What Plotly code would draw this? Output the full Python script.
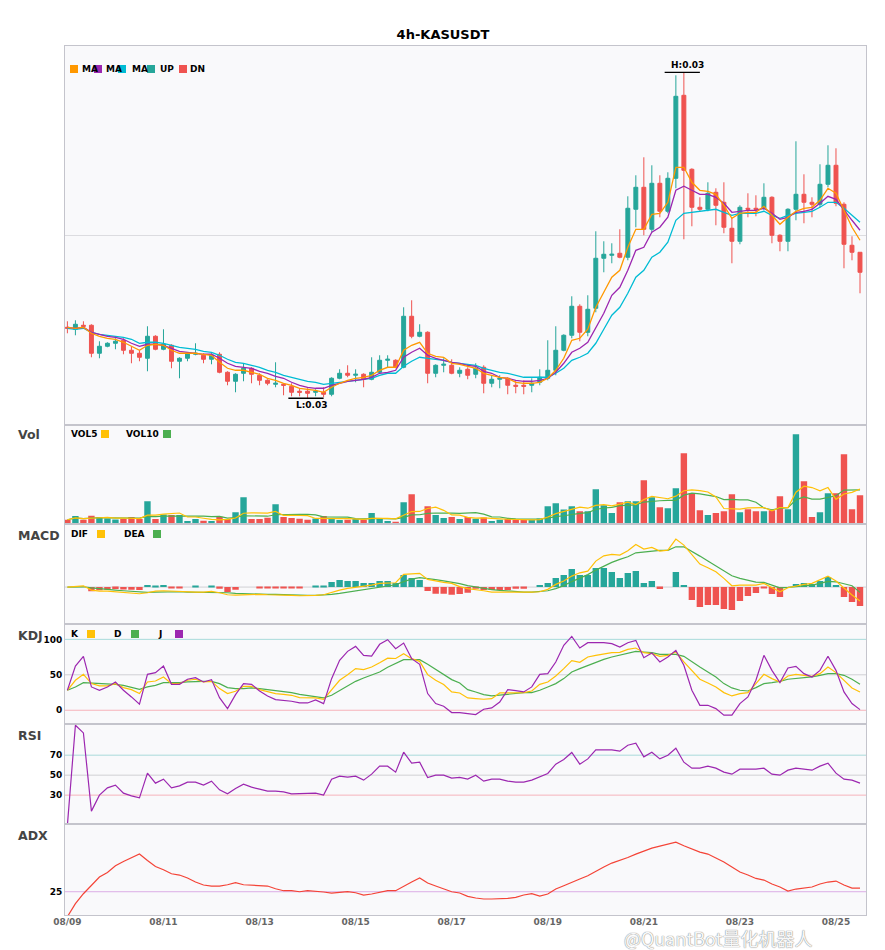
import pandas as pd
import plotly.graph_objects as go
from plotly.subplots import make_subplots

# 4h KAS/USDT candles, 2023-08-09 00:00 onwards
title = "4h-KASUSDT"
start = "2023-08-09 00:00"

open_ = [0.03108, 0.03106, 0.03110, 0.03110, 0.03082, 0.03089, 0.03092, 0.03095, 0.03085, 0.03082,
         0.03077, 0.03099, 0.03086, 0.03090, 0.03074, 0.03077, 0.03081, 0.03080, 0.03076, 0.03081,
         0.03063, 0.03054, 0.03062, 0.03067, 0.03060, 0.03055, 0.03051, 0.03051, 0.03049, 0.03044,
         0.03044, 0.03043, 0.03043, 0.03041, 0.03057, 0.03062, 0.03060, 0.03061, 0.03056, 0.03063,
         0.03075, 0.03075, 0.03068, 0.03119, 0.03099, 0.03103, 0.03062, 0.03070, 0.03070, 0.03062,
         0.03066, 0.03061, 0.03068, 0.03052, 0.03056, 0.03057, 0.03050, 0.03050, 0.03050, 0.03053,
         0.03057, 0.03065, 0.03085, 0.03100, 0.03129, 0.03103, 0.03127, 0.03177, 0.03180, 0.03182,
         0.03178, 0.03226, 0.03248, 0.03206, 0.03252, 0.03224, 0.03257, 0.03340, 0.03266, 0.03228,
         0.03226, 0.03243, 0.03233, 0.03207, 0.03194, 0.03227, 0.03227, 0.03227, 0.03238, 0.03200,
         0.03194, 0.03226, 0.03241, 0.03233, 0.03231, 0.03251, 0.03270, 0.03231, 0.03190, 0.03183]
high = [0.03114, 0.03115, 0.03114, 0.03111, 0.03094, 0.03093, 0.03097, 0.03097, 0.03089, 0.03085,
        0.03109, 0.03100, 0.03106, 0.03091, 0.03078, 0.03083, 0.03092, 0.03082, 0.03082, 0.03083,
        0.03064, 0.03062, 0.03072, 0.03068, 0.03062, 0.03056, 0.03073, 0.03052, 0.03052, 0.03047,
        0.03047, 0.03046, 0.03048, 0.03058, 0.03066, 0.03070, 0.03066, 0.03062, 0.03078, 0.03080,
        0.03080, 0.03076, 0.03128, 0.03135, 0.03111, 0.03104, 0.03071, 0.03077, 0.03076, 0.03068,
        0.03068, 0.03072, 0.03070, 0.03060, 0.03060, 0.03058, 0.03055, 0.03055, 0.03057, 0.03066,
        0.03095, 0.03109, 0.03101, 0.03139, 0.03131, 0.03140, 0.03204, 0.03194, 0.03192, 0.03206,
        0.03239, 0.03260, 0.03278, 0.03270, 0.03260, 0.03263, 0.03360, 0.03363, 0.03267, 0.03238,
        0.03253, 0.03247, 0.03253, 0.03217, 0.03230, 0.03242, 0.03240, 0.03252, 0.03239, 0.03201,
        0.03227, 0.03294, 0.03261, 0.03238, 0.03271, 0.03290, 0.03287, 0.03233, 0.03199, 0.03183]
low = [0.03102, 0.03100, 0.03108, 0.03078, 0.03077, 0.03088, 0.03086, 0.03081, 0.03072, 0.03074,
       0.03064, 0.03085, 0.03085, 0.03067, 0.03057, 0.03074, 0.03080, 0.03072, 0.03071, 0.03062,
       0.03050, 0.03043, 0.03054, 0.03052, 0.03050, 0.03050, 0.03048, 0.03040, 0.03039, 0.03039,
       0.03037, 0.03039, 0.03038, 0.03039, 0.03056, 0.03058, 0.03053, 0.03048, 0.03055, 0.03062,
       0.03068, 0.03067, 0.03067, 0.03097, 0.03098, 0.03052, 0.03058, 0.03063, 0.03061, 0.03058,
       0.03056, 0.03057, 0.03042, 0.03048, 0.03047, 0.03041, 0.03042, 0.03041, 0.03043, 0.03050,
       0.03055, 0.03060, 0.03084, 0.03097, 0.03094, 0.03099, 0.03123, 0.03163, 0.03172, 0.03177,
       0.03175, 0.03208, 0.03200, 0.03203, 0.03218, 0.03222, 0.03247, 0.03196, 0.03209, 0.03224,
       0.03224, 0.03210, 0.03202, 0.03172, 0.03191, 0.03218, 0.03219, 0.03225, 0.03192, 0.03184,
       0.03184, 0.03215, 0.03212, 0.03218, 0.03228, 0.03248, 0.03229, 0.03167, 0.03175, 0.03142]
close = [0.03107, 0.03111, 0.03109, 0.03082, 0.03089, 0.03092, 0.03094, 0.03085, 0.03082, 0.03078,
         0.03099, 0.03086, 0.03091, 0.03074, 0.03077, 0.03082, 0.03082, 0.03076, 0.03080, 0.03063,
         0.03054, 0.03061, 0.03067, 0.03061, 0.03055, 0.03052, 0.03052, 0.03050, 0.03043, 0.03043,
         0.03042, 0.03044, 0.03041, 0.03057, 0.03062, 0.03060, 0.03061, 0.03056, 0.03063, 0.03075,
         0.03076, 0.03068, 0.03119, 0.03099, 0.03103, 0.03062, 0.03070, 0.03071, 0.03062, 0.03065,
         0.03060, 0.03067, 0.03052, 0.03056, 0.03057, 0.03050, 0.03049, 0.03049, 0.03052, 0.03058,
         0.03065, 0.03085, 0.03100, 0.03129, 0.03103, 0.03126, 0.03177, 0.03181, 0.03181, 0.03178,
         0.03227, 0.03248, 0.03206, 0.03252, 0.03224, 0.03257, 0.03339, 0.03265, 0.03228, 0.03226,
         0.03242, 0.03230, 0.03208, 0.03194, 0.03228, 0.03226, 0.03226, 0.03238, 0.03200, 0.03194,
         0.03226, 0.03241, 0.03233, 0.03231, 0.03251, 0.03270, 0.03232, 0.03191, 0.03183, 0.03163]

# volume, millions
volume = [14, 25, 14, 26, 22, 18, 15, 16, 22, 16,
          70, 16, 30, 28, 28, 10, 16, 11, 10, 23,
          16, 37, 82, 16, 16, 20, 61, 22, 19, 17,
          14, 18, 25, 18, 13, 14, 16, 14, 34, 18,
          10, 8, 67, 91, 19, 55, 28, 19, 22, 16,
          22, 17, 21, 10, 14, 16, 13, 13, 13, 18,
          55, 64, 45, 55, 40, 40, 106, 58, 34, 67,
          70, 70, 133, 82, 52, 49, 109, 214, 94, 43,
          28, 34, 40, 91, 37, 46, 40, 40, 43, 85,
          46, 271, 130, 22, 37, 94, 94, 211, 46, 88]

ma_fast = [0.03108, 0.03107, 0.03108, 0.03102, 0.03099, 0.03097, 0.03096, 0.03093, 0.03089, 0.03085,
           0.03090, 0.03091, 0.03090, 0.03085, 0.03082, 0.03082, 0.03082, 0.03081, 0.03080, 0.03073,
           0.03067, 0.03065, 0.03065, 0.03063, 0.03061, 0.03057, 0.03055, 0.03052, 0.03050, 0.03047,
           0.03046, 0.03045, 0.03043, 0.03048, 0.03052, 0.03055, 0.03057, 0.03058, 0.03060, 0.03065,
           0.03068, 0.03068, 0.03085, 0.03090, 0.03093, 0.03082, 0.03079, 0.03078, 0.03072, 0.03071,
           0.03069, 0.03067, 0.03062, 0.03060, 0.03058, 0.03057, 0.03053, 0.03052, 0.03052, 0.03053,
           0.03057, 0.03065, 0.03077, 0.03095, 0.03097, 0.03106, 0.03128, 0.03143, 0.03158, 0.03165,
           0.03188, 0.03206, 0.03206, 0.03221, 0.03222, 0.03233, 0.03268, 0.03268, 0.03253, 0.03245,
           0.03244, 0.03241, 0.03230, 0.03217, 0.03222, 0.03223, 0.03223, 0.03229, 0.03220, 0.03211,
           0.03218, 0.03224, 0.03227, 0.03228, 0.03235, 0.03247, 0.03242, 0.03225, 0.03208, 0.03195]
ma_mid = [0.03108, 0.03107, 0.03108, 0.03103, 0.03101, 0.03099, 0.03098, 0.03096, 0.03092, 0.03089,
          0.03091, 0.03091, 0.03090, 0.03087, 0.03084, 0.03083, 0.03082, 0.03081, 0.03081, 0.03077,
          0.03072, 0.03069, 0.03068, 0.03067, 0.03064, 0.03062, 0.03059, 0.03057, 0.03053, 0.03050,
          0.03048, 0.03047, 0.03047, 0.03050, 0.03052, 0.03054, 0.03055, 0.03056, 0.03058, 0.03062,
          0.03063, 0.03065, 0.03078, 0.03083, 0.03087, 0.03080, 0.03077, 0.03075, 0.03073, 0.03072,
          0.03070, 0.03069, 0.03064, 0.03062, 0.03058, 0.03057, 0.03055, 0.03054, 0.03054, 0.03055,
          0.03057, 0.03063, 0.03072, 0.03083, 0.03087, 0.03093, 0.03108, 0.03122, 0.03140, 0.03148,
          0.03165, 0.03185, 0.03188, 0.03203, 0.03208, 0.03218, 0.03245, 0.03249, 0.03245, 0.03241,
          0.03241, 0.03238, 0.03232, 0.03223, 0.03224, 0.03225, 0.03225, 0.03227, 0.03222, 0.03216,
          0.03218, 0.03223, 0.03224, 0.03226, 0.03232, 0.03239, 0.03236, 0.03225, 0.03215, 0.03205]
ma_slow = [0.03107, 0.03106, 0.03107, 0.03103, 0.03101, 0.03100, 0.03099, 0.03098, 0.03096, 0.03092,
           0.03093, 0.03093, 0.03092, 0.03090, 0.03088, 0.03087, 0.03086, 0.03084, 0.03083, 0.03080,
           0.03076, 0.03073, 0.03072, 0.03070, 0.03068, 0.03065, 0.03063, 0.03060, 0.03058, 0.03056,
           0.03054, 0.03053, 0.03051, 0.03052, 0.03053, 0.03054, 0.03055, 0.03056, 0.03057, 0.03060,
           0.03062, 0.03062, 0.03069, 0.03074, 0.03078, 0.03077, 0.03076, 0.03075, 0.03073, 0.03072,
           0.03071, 0.03070, 0.03067, 0.03065, 0.03063, 0.03062, 0.03060, 0.03058, 0.03058, 0.03058,
           0.03058, 0.03062, 0.03067, 0.03075, 0.03078, 0.03082, 0.03092, 0.03106, 0.03120, 0.03128,
           0.03142, 0.03158, 0.03165, 0.03178, 0.03183, 0.03193, 0.03215, 0.03222, 0.03223, 0.03224,
           0.03225, 0.03226, 0.03223, 0.03220, 0.03222, 0.03222, 0.03222, 0.03224, 0.03220, 0.03217,
           0.03220, 0.03222, 0.03223, 0.03224, 0.03228, 0.03233, 0.03233, 0.03227, 0.03220, 0.03213]

vol5 = [14, 19.5, 17.7, 19.8, 20.2, 21, 19, 19.4, 18.6, 17.4,
        27.8, 28, 30.8, 32, 34.4, 22.4, 22.4, 18.6, 15, 14,
        15.2, 19.4, 33.6, 34.8, 33.4, 34.2, 39, 27, 27.6, 27.8,
        26.6, 18, 18.6, 18.4, 17.6, 17.6, 17.2, 15, 18.2, 19.2,
        18.4, 16.8, 27.4, 38.8, 39, 48, 52, 42.4, 28.6, 28,
        21.4, 19.2, 19.6, 17.2, 16.8, 15.6, 14.8, 13.2, 13.8, 14.6,
        22.4, 32.6, 39, 47.4, 51.8, 48.8, 57.2, 59.8, 55.6, 61,
        67, 59.8, 74.8, 84.4, 81.4, 77.2, 85, 101.2, 103.6, 101.8,
        97.6, 82.6, 47.8, 47.2, 46, 49.6, 50.8, 50.8, 41.2, 50.8,
        50.8, 97, 115, 110.8, 101.2, 110.8, 75.4, 91.6, 96.4, 106.6]
vol10 = [14, 19.5, 17.7, 19.8, 20.2, 19.8, 19.1, 18.8, 19.1, 18.8,
         24.4, 23.5, 25.1, 25.3, 25.9, 25.1, 25.2, 24.7, 23.5, 24.2,
         18.8, 20.9, 26.1, 24.9, 23.7, 24.7, 29.2, 30.3, 31.2, 30.6,
         30.4, 28.5, 22.8, 23, 22.7, 22.1, 17.6, 16.8, 18.3, 18.4,
         18, 17, 21.2, 28.5, 29.1, 33.2, 34.4, 34.9, 33.7, 33.5,
         34.7, 35.6, 31, 22.9, 22.4, 18.5, 17, 16.4, 15.5, 15.7,
         19, 23.7, 26.1, 30.6, 33.2, 35.6, 44.9, 49.4, 51.5, 56.4,
         57.9, 58.5, 67.3, 70, 71.2, 72.1, 72.4, 88, 94, 91.6,
         87.4, 83.8, 74.5, 75.4, 73.9, 73.6, 66.7, 49.3, 44.2, 48.4,
         50.2, 73.9, 82.9, 76, 76, 80.8, 86.2, 103.3, 103.6, 103.9]

# MACD, in units of 1e-5
dif = [0, 1, 1.3, -3, -4, -4, -4.7, -5, -5.7, -6.7,
       -5.7, -4, -3.7, -4, -5, -5.3, -5, -5, -4.3, -5.7,
       -7.7, -8, -7.7, -7.3, -7.3, -7.7, -7.7, -7.7, -8.3, -8.7,
       -8.7, -8.3, -7.7, -5.3, -3, -1.3, -0.3, 0.7, 2, 3.7,
       4.3, 4.3, 12.7, 13.3, 13.7, 7.7, 6, 4.7, 3.7, 0.5,
       -1.5, -2.3, -3.7, -5, -5, -5, -5.7, -5.7, -5, -4.7,
       -2.3, 2.7, 6, 11, 14.3, 16, 26, 31.3, 32.7, 32,
       36.3, 42.7, 38, 39.7, 36, 37, 48, 42, 32, 23,
       19.3, 15.3, 8.7, 1.3, 2, 2, 2, 3.7, -0.7, -4.7,
       -0.7, 1.3, 2.7, 3.7, 7, 11, 6, -1.3, -8, -14]
dea = [0, 0.3, 0.3, -0.7, -1.7, -2.3, -3, -3.7, -4.3, -5,
       -5.3, -5, -4.7, -4.7, -4.7, -5, -5, -5, -5, -5.3,
       -5.7, -6.3, -6.7, -7, -7, -7.3, -7.3, -7.7, -8, -8,
       -8.3, -8.3, -8, -7.3, -6.3, -5, -3.7, -2.7, -1.3, 0,
       1.3, 2.3, 5.5, 8, 9.5, 8.8, 7.5, 6.2, 5, 3.5,
       1.5, 0, -1.3, -2.5, -3.3, -4, -4.5, -5, -5, -4.7,
       -3.7, -1.5, 1.5, 5.5, 9, 12.5, 17, 21, 24.7, 27.7,
       30.3, 34.3, 35.3, 36.3, 36.7, 36.7, 40.3, 40.3, 36, 31,
       26, 21, 16.3, 11.3, 8.7, 7, 5, 4.7, 2.3, -0.7,
       -0.3, 0.3, 1.3, 2, 3.7, 5.7, 5.3, 3.3, 1.3, -5.3]
macd_hist = [0, 0, 0, -4.3, -3.3, -2.7, -2, -2.3, -2.7, -3,
             2, 1.3, 2, -0.7, -0.7, 0, 1, 0, 1, -1.7,
             -5, -2.7, 0, 0, -0.7, -0.7, -0.7, -0.7, -0.7, -0.7,
             0, 1, 1, 5, 7, 6, 6, 4, 4, 6,
             6, 4, 12, 9, 7, -4, -6.7, -6.7, -7.7, -7,
             -5.7, -1.7, -3, -3, -3, -3, -1.7, -1.7, 0, 2,
             4, 9, 12, 18, 12, 12, 19, 19, 15, 9,
             14, 16, 4, 6, -2, 0, 15, 2, -13, -20,
             -18, -18, -22, -23, -14, -9, -6, -0.7, -7, -10,
             0, 3, 4, 3, 6, 10, 2, -10, -15, -19]

k_line = [28.2, 42.3, 50.7, 37.6, 34.3, 34.3, 37.6, 31.9, 29.1, 23.5,
          39.9, 41.3, 47, 37.6, 37.6, 42.3, 43.7, 39.9, 40.8, 30.5,
          23.5, 26.8, 33.8, 33.8, 29.1, 25.8, 23.5, 22.5, 21.1, 17.8,
          17.4, 17.4, 15.5, 28.2, 42.3, 50.2, 58.7, 57.3, 61, 67,
          73.5, 73, 79.8, 72.8, 69, 50.2, 42.3, 36.2, 25.8, 24.4,
          17.4, 16.4, 15.5, 16.4, 24.4, 24.4, 24.9, 24.9, 27.2, 36.6,
          39.9, 48.4, 58.7, 70, 67.6, 75.1, 77.5, 79.8, 81.2, 81.7,
          85.9, 87.8, 81.2, 79.8, 76.1, 77.5, 82.2, 68.1, 56.3, 43.7,
          38.5, 32.9, 24.9, 20.2, 23.5, 24.9, 37.6, 50.7, 44.6, 39.9,
          48.4, 50.7, 49.3, 47.9, 51.6, 61, 53.1, 42.3, 31.5, 25.8]
d_line = [28.2, 32.9, 39, 38.5, 37.6, 36.6, 36.6, 35.2, 32.9, 29.6,
          32.9, 35.2, 39, 38.5, 39, 39.9, 40.8, 40.8, 40.8, 37.6,
          31.9, 30.5, 30.5, 31.5, 30.5, 29.1, 27.2, 26.8, 24.9, 22.5,
          21.1, 19.7, 17.4, 21.1, 27.7, 34.3, 40.8, 45.5, 49.3, 54,
          60.6, 65.7, 71.4, 71.4, 71.4, 64.8, 57.7, 50.7, 43.2, 38.5,
          29.1, 25.8, 22.1, 20.2, 21.6, 23, 23.9, 24.9, 24.9, 28.2,
          32.9, 37.6, 44.6, 54, 58.7, 63.4, 68.1, 71.8, 75.1, 77.5,
          79.8, 83.1, 82.2, 81.2, 78.9, 78.9, 78.9, 76.1, 68.1, 61,
          54, 47, 37.6, 31.5, 28.2, 27.2, 31.9, 37.6, 39, 40.8,
          43.7, 44.6, 46, 47, 49.3, 51.6, 51.6, 49.3, 43.7, 36.6]
j_line = [28.2, 62.4, 76.1, 32.9, 28.2, 32.9, 39.9, 28.2, 18.8, 8.5,
          50.7, 53.1, 62.4, 36.6, 36.6, 43.7, 46, 39.9, 43.2, 17.8,
          2.3, 22.1, 37.6, 36.6, 27.2, 20.2, 15, 14.1, 12.7, 10.3,
          10.3, 14.6, 9.4, 44.6, 70.4, 83.1, 90.1, 77.5, 76.5, 93,
          99.5, 86.9, 94.8, 72.8, 64.8, 23.5, 9.4, 5.6, -3.3, -3.3,
          -4.7, -6.1, 1.4, 3.3, 11.7, 29.1, 27.7, 25.8, 32.9, 50.7,
          51.6, 68.1, 91.6, 104.2, 87.8, 95.3, 95.3, 95.3, 93.9, 89.2,
          95.3, 98.6, 74.2, 80.8, 68.1, 75.1, 84.5, 63.4, 28.2, 7,
          7, 2.3, -7, -7, 9.4, 18.8, 42.3, 77.5, 56.3, 39,
          59.6, 62, 51.6, 47, 56.3, 76.1, 56.3, 25.8, 9.4, 0.9]

rsi = [0, 100, 92.3, 14, 30, 37.3, 40, 32, 29.3, 27.3,
       52, 42, 46, 37.3, 39.3, 43, 43, 40, 44, 35.3,
       31.3, 36.7, 41, 38, 36, 34, 34, 33.3, 31.3, 31.3,
       31.3, 32, 30, 46, 49, 48, 49, 45, 51, 59,
       59, 53, 73, 62, 63, 47.7, 50, 50, 47, 47.7,
       46, 50, 44, 46, 46, 44, 43, 43, 45, 48,
       51.7, 61, 65.7, 72.7, 61, 66.3, 75.3, 75.3, 75.3, 74,
       80, 82, 68.3, 73, 66.3, 70, 77, 63, 57, 57,
       59, 57, 53, 51, 56, 56, 56, 57, 51, 50,
       55, 57, 56.3, 55, 59, 62, 52, 46, 45, 42]

adx = [0, 13, 23, 31.7, 39.7, 44.3, 51, 55.3, 59.3, 62.7,
       56.3, 50.3, 47, 43, 41.7, 38.7, 34.7, 31.7, 30.7, 30.7,
       32, 34, 32, 31.7, 30.7, 30.7, 28, 26, 26, 25,
       26, 25.7, 24.7, 23.7, 24, 25, 24, 21.7, 22.7, 24,
       26, 26, 30.7, 34.7, 38.7, 33.7, 30.7, 28, 25, 23.7,
       20.3, 18.7, 17.7, 17.7, 17.7, 18.3, 19.3, 21.7, 23, 20.7,
       22.7, 27.7, 31, 34.7, 37.7, 41, 45.7, 49.7, 53.7, 56.3,
       59.3, 62.7, 65.7, 68.7, 70.7, 72.7, 74.7, 71, 67.7, 64.7,
       62.7, 58.7, 54.7, 49.7, 44.7, 41.7, 38.3, 36.7, 32.7, 29.7,
       25.7, 27.7, 28.7, 29.7, 32.7, 34.7, 35.7, 31.7, 28.7, 28.7]

times = pd.date_range(start, periods=len(close), freq="4h")
step = pd.Timedelta(hours=4)

UP, DN = "#26a69a", "#ef5350"
ORANGE, PURPLE, CYAN = "#ff9800", "#9c27b0", "#00bcd4"
YELLOW, GREEN = "#ffc107", "#4caf50"
BORDER = "#c4c4cc"
BG = "#f9f9fb"

fig = make_subplots(rows=6, cols=1, shared_xaxes=True, vertical_spacing=0,
                    row_heights=[379, 100, 100, 100, 100, 91])

# price
fig.add_trace(go.Candlestick(
    x=times, open=open_, high=high, low=low, close=close,
    increasing=dict(line=dict(color=UP, width=1), fillcolor=UP),
    decreasing=dict(line=dict(color=DN, width=1), fillcolor=DN),
    whiskerwidth=0), row=1, col=1)
for vals, col in [(ma_slow, CYAN), (ma_mid, PURPLE), (ma_fast, ORANGE)]:
    fig.add_trace(go.Scatter(x=times, y=vals, mode="lines",
                             line=dict(color=col, width=1.3)), row=1, col=1)

# volume
bar_colors = [UP if c >= o else DN for o, c in zip(open_, close)]
fig.add_trace(go.Bar(x=times, y=volume, marker_color=bar_colors,
                     marker_line_width=0), row=2, col=1)
fig.add_trace(go.Scatter(x=times, y=vol10, mode="lines",
                         line=dict(color=GREEN, width=1.2)), row=2, col=1)
fig.add_trace(go.Scatter(x=times, y=vol5, mode="lines",
                         line=dict(color=YELLOW, width=1.2)), row=2, col=1)

# macd
fig.add_trace(go.Bar(x=times, y=macd_hist,
                     marker_color=[UP if h >= 0 else DN for h in macd_hist],
                     marker_line_width=0), row=3, col=1)
fig.add_trace(go.Scatter(x=times, y=dea, mode="lines",
                         line=dict(color=GREEN, width=1.2)), row=3, col=1)
fig.add_trace(go.Scatter(x=times, y=dif, mode="lines",
                         line=dict(color=YELLOW, width=1.2)), row=3, col=1)

# kdj
for vals, col in [(d_line, GREEN), (k_line, YELLOW), (j_line, PURPLE)]:
    fig.add_trace(go.Scatter(x=times, y=vals, mode="lines",
                             line=dict(color=col, width=1.2)), row=4, col=1)

# rsi / adx
fig.add_trace(go.Scatter(x=times, y=rsi, mode="lines",
                         line=dict(color=PURPLE, width=1.2)), row=5, col=1)
fig.add_trace(go.Scatter(x=times, y=adx, mode="lines",
                         line=dict(color="#f44336", width=1.2)), row=6, col=1)

# reference lines
TEAL_L, GRAY_L, PINK_L = "#a9dada", "#d0d0d4", "#f6b3bb"
fig.add_hline(y=0, row=3, col=1, line=dict(color=GRAY_L, width=1), layer="below")
for y, c in [(100, TEAL_L), (50, GRAY_L), (0, PINK_L)]:
    fig.add_hline(y=y, row=4, col=1, line=dict(color=c, width=1), layer="below")
for y, c in [(70, TEAL_L), (50, GRAY_L), (30, PINK_L)]:
    fig.add_hline(y=y, row=5, col=1, line=dict(color=c, width=1), layer="below")
fig.add_hline(y=25, row=6, col=1, line=dict(color="#dcaee6", width=1), layer="below")

# high / low marks
ih = high.index(max(high))
il = low.index(min(low))
for i, val, tag, anchor in [(ih, high[ih], "H", "bottom"), (il, low[il], "L", "top")]:
    fig.add_shape(type="line", xref="x", yref="y",
                  x0=times[i] - 2.4 * step, x1=times[i] + 2 * step, y0=val, y1=val,
                  line=dict(color="black", width=1.3))
    fig.add_annotation(x=times[i] + 0.5 * step, y=val, xref="x", yref="y",
                       text=f"{tag}:{val:.2f}", showarrow=False, yanchor=anchor,
                       font=dict(size=9, color="black", weight="bold"))

# axes
x_range = [times[0] - 0.3 * step, times[-1] + 0.75 * step]
fig.update_xaxes(range=x_range, showgrid=False, zeroline=False, showline=True,
                 mirror=True, linecolor=BORDER, linewidth=1, ticks="",
                 rangeslider_visible=False, tickformat="%m/%d",
                 tick0="2023-08-09", dtick=2 * 86400000, ticklabelstandoff=-2,
                 tickfont=dict(size=9, color="#666666", weight="bold"))
ycommon = dict(showline=True, mirror=True, linecolor=BORDER, linewidth=1,
               zeroline=False, ticks="", fixedrange=True,
               tickfont=dict(size=9, color="black", weight="bold"))
fig.update_yaxes(row=1, col=1, range=[0.030107, 0.033893], tickvals=[0.032],
                 showticklabels=False, showgrid=True, gridcolor="#dcdce0", **ycommon)
fig.update_yaxes(row=2, col=1, range=[0, 300], showticklabels=False, showgrid=False, **ycommon)
fig.update_yaxes(row=3, col=1, range=[-37.3, 62.7], showticklabels=False, showgrid=False, **ycommon)
fig.update_yaxes(row=4, col=1, range=[-19.7, 121.2], tickvals=[0, 50, 100], showgrid=False, **ycommon)
fig.update_yaxes(row=5, col=1, range=[1, 101], tickvals=[30, 50, 70], showgrid=False, **ycommon)
fig.update_yaxes(row=6, col=1, range=[1.7, 92.7], tickvals=[25], showgrid=False, **ycommon)

# page pixel layout: the page body adds an 8px offset around the figure
PAD = 8
L, T, W, H = 65, 46, 801, 869   # plot area in page pixels
FW, FH = 885 - PAD, 950 - PAD   # figure size


def to_paper(x, y):
    return (x - L) / W, 1 - (y - T) / H


def text_at(text, x, y, size=9, color="black", anchor="left", **font_extra):
    px, py = to_paper(x, y)
    font = dict(size=size, color=color, weight="bold")
    font.update(font_extra)
    fig.add_annotation(text=text, x=px, y=py, xref="paper", yref="paper",
                       xanchor=anchor, yanchor="middle", showarrow=False, font=font)


def square(x, y, color, s=8):
    x0, y0 = to_paper(x, y + s / 2)
    x1, y1 = to_paper(x + s, y - s / 2)
    fig.add_shape(type="rect", xref="paper", yref="paper", x0=x0, y0=y0,
                  x1=x1, y1=y1, fillcolor=color, line_width=0)


# panel names
for name, y in [("Vol", 435), ("MACD", 535), ("KDJ", 635), ("RSI", 735), ("ADX", 835)]:
    text_at(name, 16, y, size=12.5, color="#444444")

# in-panel legends
for x_sq, x_txt, col, txt in [(70, 80, ORANGE, "MA"), (94, 104, PURPLE, "MA"),
                              (118, 130, CYAN, "MA"), (147, 158, UP, "UP"),
                              (179, 188, DN, "DN")]:
    text_at(txt, x_txt, 69)
    square(x_sq, 69, col)
for x_txt, txt, x_sq, col in [(69, "VOL5", 101, YELLOW), (124, "VOL10", 163, GREEN)]:
    text_at(txt, x_txt, 434)
    square(x_sq, 434, col)
for x_txt, txt, x_sq, col in [(69, "DIF", 97, YELLOW), (122, "DEA", 153, GREEN)]:
    text_at(txt, x_txt, 534)
    square(x_sq, 534, col)
for x_txt, txt, x_sq, col in [(69, "K", 87, YELLOW), (112, "D", 131, GREEN),
                              (156, "J", 175, PURPLE)]:
    text_at(txt, x_txt, 634)
    square(x_sq, 634, col)

# watermark (kept just under the date labels)
text_at("@QuantBot量化机器人", 622, 938, size=18, color="rgba(255,255,255,0.95)",
        family="Noto Sans CJK SC", weight="normal",
        shadow="0 0 1px #8a8a8a, 0 0 1px #8a8a8a")

fig.update_layout(
    width=FW, height=FH, autosize=False,
    margin=dict(l=L - PAD, r=FW - (L - PAD) - W, t=T - PAD, b=FH - (T - PAD) - H),
    paper_bgcolor="white", plot_bgcolor=BG,
    showlegend=False, bargap=0.2, hovermode=False,
    font=dict(family="DejaVu Sans", color="black"),
    title=dict(text=title, x=(443 - PAD) / FW, xanchor="center",
               y=1 - (34 - PAD) / FH, yanchor="middle",
               font=dict(size=13, color="black", weight="bold")),
)

fig.write_html("out.html")
